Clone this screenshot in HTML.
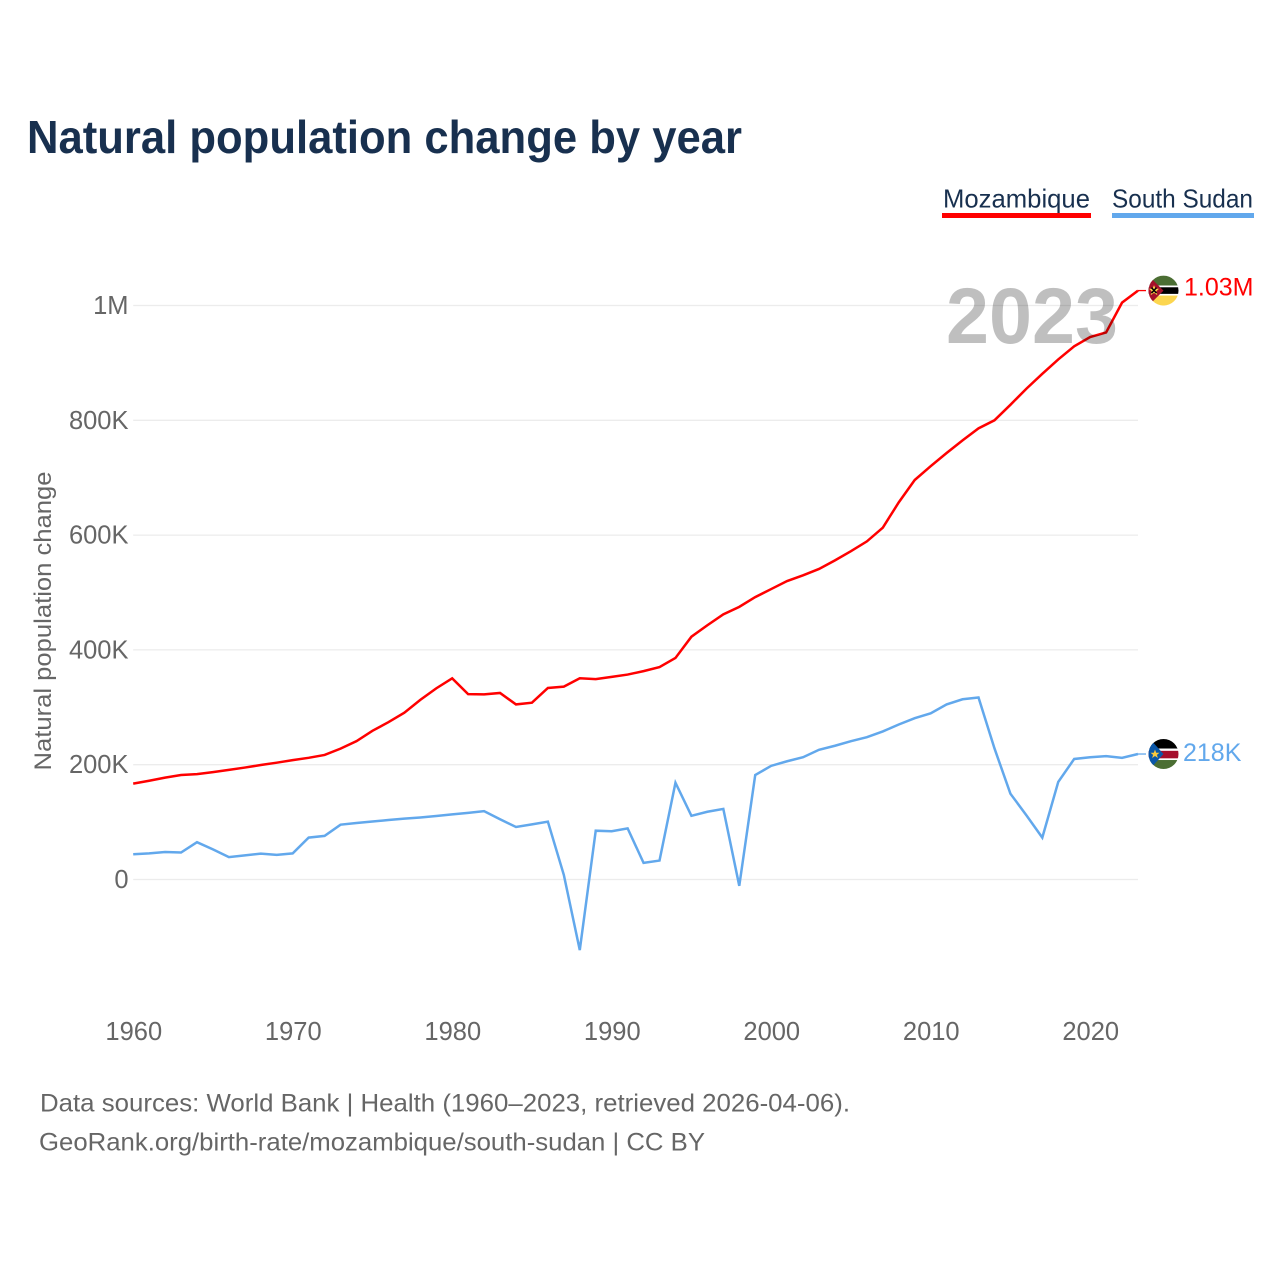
<!DOCTYPE html>
<html lang="en">
<head>
<meta charset="utf-8">
<title>Natural population change by year</title>
<style>
  html, body { margin: 0; padding: 0; background: #fff; }
  svg { display: block; font-family: "Liberation Sans", sans-serif; }
</style>
</head>
<body>
<svg id="chart" xmlns="http://www.w3.org/2000/svg" width="1280" height="1280" viewBox="0 0 1280 1280">
  <defs>
    <clipPath id="flag-clip"><circle cx="0" cy="0" r="15"></circle></clipPath>
  </defs>
  <rect x="0" y="0" width="1280" height="1280" fill="#ffffff"></rect>
  <text x="27" y="153" font-size="46" font-weight="700" fill="#18304f" textLength="715" lengthAdjust="spacingAndGlyphs">Natural population change by year</text>

  <g>
    <text x="943" y="207.5" font-size="26" fill="#18304f" textLength="147" lengthAdjust="spacingAndGlyphs">Mozambique</text>
    <rect x="942" y="213" width="149" height="5" fill="#ff0000"></rect>
  </g>
  <g>
    <text x="1112" y="207.5" font-size="26" fill="#18304f" textLength="141" lengthAdjust="spacingAndGlyphs">South Sudan</text>
    <rect x="1112" y="213" width="142" height="5" fill="#62a8ec"></rect>
  </g>

  <g id="grid"></g>
  <g id="y-ticks"></g>
  <g id="x-ticks"></g>
  <text transform="translate(51 770.5) rotate(-90)" font-size="24.5" fill="#666666" textLength="299" lengthAdjust="spacingAndGlyphs">Natural population change</text>

  <g id="series"></g>

  <text x="946" y="343" font-size="79" font-weight="700" fill="#000000" fill-opacity="0.25" textLength="172" lengthAdjust="spacingAndGlyphs">2023</text>

  <g id="end-mozambique">
    <g clip-path="url(#flag-clip)">
      <rect x="-15" y="-15" width="30" height="10" fill="#4b6e33"></rect>
      <rect x="-15" y="-5" width="30" height="10" fill="#ffffff"></rect>
      <rect x="-15" y="-3.3" width="30" height="6.6" fill="#000000"></rect>
      <rect x="-15" y="5" width="30" height="10" fill="#fcd64f"></rect>
      <polygon points="0,0 -20,-20 -20,20" fill="#a5102a"></polygon>
      <polygon points="-9.5,-5.5 -8,-1.8 -4.5,-1.8 -7.2,0.7 -6.2,4.5 -9.5,2.3 -12.8,4.5 -11.8,0.7 -14.5,-1.8 -11,-1.8" fill="#fcd64f"></polygon>
      <path d="M-12,-3 L-7,2.5 M-7,-3 L-12,2.5" stroke="#000" stroke-width="1.5"></path>
    </g>
  </g>
  <g id="end-south-sudan">
    <g clip-path="url(#flag-clip)">
      <rect x="-15" y="-15" width="30" height="10" fill="#000000"></rect>
      <rect x="-15" y="-5.5" width="30" height="11.5" fill="#ffffff"></rect>
      <rect x="-15" y="-3.2" width="30" height="7.5" fill="#a50e2d"></rect>
      <rect x="-15" y="6" width="30" height="9" fill="#4b6e33"></rect>
      <polygon points="0,0 -18,-20 -18,20" fill="#0b57a8"></polygon>
      <polygon points="-8.5,-4.5 -7.3,-1.3 -4,-1.3 -6.6,0.8 -5.6,4 -8.5,2 -11.4,4 -10.4,0.8 -13,-1.3 -9.7,-1.3" fill="#fcc93d"></polygon>
    </g>
  </g>

  <text x="40" y="1111.5" font-size="25" fill="#666666" textLength="810" lengthAdjust="spacingAndGlyphs">Data sources: World Bank | Health (1960–2023, retrieved 2026-04-06).</text>
  <text x="39" y="1150.5" font-size="25" fill="#666666" textLength="666" lengthAdjust="spacingAndGlyphs">GeoRank.org/birth-rate/mozambique/south-sudan | CC BY</text>
</svg>

<script>
const firstYear = 1960;
const lastYear = 2023;

const mozambique = [
  167, 172, 177.5, 182, 183.5, 187, 191, 195, 199.5, 203.5,
  208, 212, 217, 228, 241, 259, 274, 290.6, 313, 333,
  350.5, 323, 322.6, 325, 305, 308, 333.6, 336, 350.5, 349,
  353, 357, 363, 370, 386, 423, 443, 462, 475, 492,
  506, 520, 530, 541, 556, 572, 589, 613, 657, 696,
  720, 743, 765, 786, 800, 827, 855, 881, 906, 929,
  945, 953, 1005, 1026
];

const southSudan = [
  44, 45.5, 48, 47, 65, 52.5, 39, 42, 45, 43,
  45.5, 73, 76, 95.5, 98.4, 101, 103.6, 106, 108, 110.6,
  113.5, 116, 119, 105, 91.5, 96, 100.7, 8, -123, 85,
  84, 89, 29, 33, 168.6, 111, 118, 123, -11, 182,
  198, 206, 213, 226, 233, 241, 248, 258, 270, 281,
  289.5, 305, 314, 317, 228.5, 149.5, 112, 73, 170, 210,
  213, 215, 212, 218.6
];

const yTickValues = [0, 200, 400, 600, 800, 1000];
const yTickLabels = ['0', '200K', '400K', '600K', '800K', '1M'];
const xTickYears = [1960, 1970, 1980, 1990, 2000, 2010, 2020];
const xTickLabels = ['1960', '1970', '1980', '1990', '2000', '2010', '2020'];
const endLabels = ['1.03M', '218K'];

const SVG_NS = 'http://www.w3.org/2000/svg';

function xScale(year) {
  return 133.2 + (year - firstYear) * (1138 - 133.2) / (lastYear - firstYear);
}

function yScale(value) {
  return 879.5 - value * 0.574;
}

function linePath(values) {
  return values.map(function (v, i) {
    return (i ? 'L' : 'M') + xScale(firstYear + i).toFixed(2) + ' ' + yScale(v).toFixed(2);
  }).join(' ');
}

const gridGroup = document.getElementById('grid');
const yTickGroup = document.getElementById('y-ticks');
const xTickGroup = document.getElementById('x-ticks');
const seriesGroup = document.getElementById('series');

yTickValues.forEach(function (value, i) {
  const line = document.createElementNS(SVG_NS, 'line');
  
  
  line.setAttribute('x1', xScale(firstYear));
  line.setAttribute('x2', xScale(lastYear));
  line.setAttribute('y1', yScale(value));
  line.setAttribute('y2', yScale(value));
  line.setAttribute('stroke', '#ececec');
  line.setAttribute('stroke-width', '1.3');
  gridGroup.appendChild(line);

  const label = document.createElementNS(SVG_NS, 'text');
  
  
  label.setAttribute('x', 128.5);
  label.setAttribute('y', yScale(value) + 8.5);
  label.setAttribute('text-anchor', 'end');
  label.setAttribute('font-size', '25.5');
  label.setAttribute('fill', '#666666');
  label.textContent = yTickLabels[i];
  yTickGroup.appendChild(label);
});

xTickYears.forEach(function (year, i) {
  const label = document.createElementNS(SVG_NS, 'text');
  
  
  label.setAttribute('x', xScale(year) + 0.6);
  label.setAttribute('y', 1040);
  label.setAttribute('text-anchor', 'middle');
  label.setAttribute('font-size', '25.5');
  label.setAttribute('fill', '#666666');
  label.textContent = xTickLabels[i];
  xTickGroup.appendChild(label);
});

function drawSeries(values, color, seriesName) {
  const path = document.createElementNS(SVG_NS, 'path');
  
  
  path.setAttribute('d', linePath(values));
  path.setAttribute('fill', 'none');
  path.setAttribute('stroke', color);
  path.setAttribute('stroke-width', '2.5');
  path.setAttribute('stroke-linejoin', 'miter');
  seriesGroup.appendChild(path);
}

drawSeries(southSudan, '#62a8ec', 'line-south-sudan');
drawSeries(mozambique, '#ff0000', 'line-mozambique');

function drawEnd(groupId, values, color, flagX, labelX, labelDy, labelText, connectorName, labelName) {
  const endY = yScale(values[values.length - 1]);
  const group = document.getElementById(groupId);
  group.querySelector('g').setAttribute('transform', 'translate(' + flagX + ' ' + endY + ')');

  const connector = document.createElementNS(SVG_NS, 'line');
  
  
  connector.setAttribute('x1', xScale(lastYear));
  connector.setAttribute('x2', 1146);
  connector.setAttribute('y1', endY);
  connector.setAttribute('y2', endY);
  connector.setAttribute('stroke', color);
  connector.setAttribute('stroke-width', '1.3');
  group.appendChild(connector);

  const label = document.createElementNS(SVG_NS, 'text');
  
  
  label.setAttribute('x', labelX);
  label.setAttribute('y', endY + labelDy);
  label.setAttribute('font-size', '25');
  label.setAttribute('fill', color);
  label.textContent = labelText;
  group.appendChild(label);
}

drawEnd('end-mozambique', mozambique, '#ff0000', 1163.5, 1184, 5, endLabels[0], 'connector-mozambique', 'end-value-mozambique');
drawEnd('end-south-sudan', southSudan, '#62a8ec', 1163.5, 1183, 7, endLabels[1], 'connector-south-sudan', 'end-value-south-sudan');
</script>
</body>
</html>
